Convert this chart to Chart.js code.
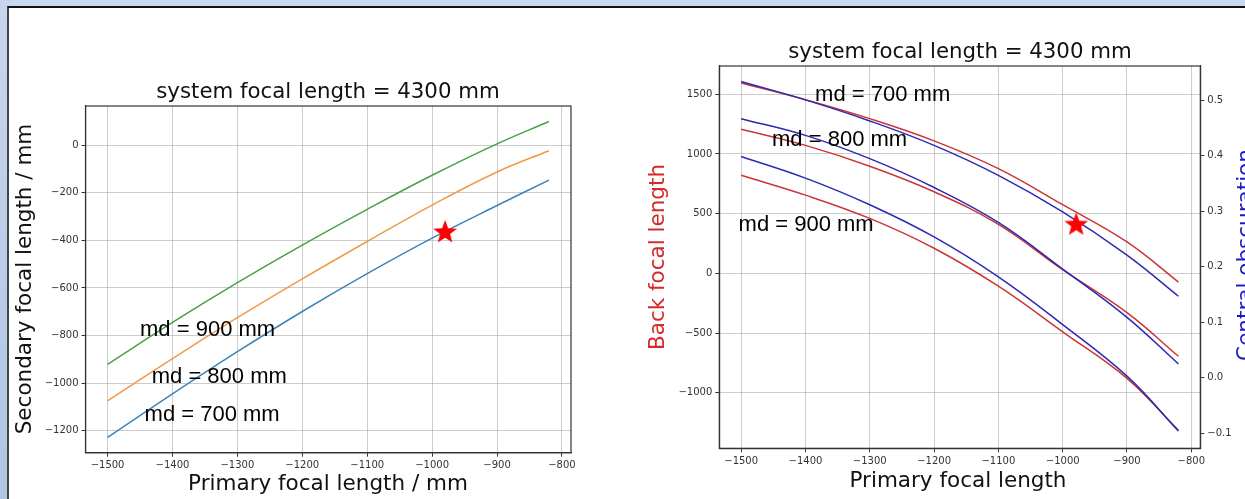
<!DOCTYPE html>
<html>
<head>
<meta charset="utf-8">
<script src="https://cdn.jsdelivr.net/npm/chart.js@4.4.1/dist/chart.umd.min.js"></script>
<style>
  body { margin: 0; width: 1245px; height: 499px; overflow: hidden; background: #c9d8ee; position: relative; }
  #strip { position: absolute; left: 0; top: 0; width: 7px; height: 499px; background: linear-gradient(#c7d6ee, #b0c4e3); }
  #panel { position: absolute; left: 7px; top: 6px; right: 0; bottom: 0; background: #fff; border-top: 2px solid #111; border-left: 2px solid #444; }
  #leftChart { position: absolute; left: 0; top: 0; }
  #rightChart { position: absolute; left: 640px; top: 0; }
</style>
</head>
<body>
<div id="strip"></div>
<div id="panel"></div>
<canvas id="leftChart" width="640" height="499"></canvas>
<canvas id="rightChart" width="605" height="499"></canvas>
<script>
// values
const primaryFocal = [-1500, -1400, -1300, -1200, -1100, -1000, -900, -820];

const secondaryMd700 = [-1228, -1045, -868, -699, -540, -391, -254, -147];
const secondaryMd800 = [-1074, -897, -725, -562, -405, -252, -113, -24];
const secondaryMd900 = [-921, -745, -578, -420, -270, -127, 5, 99];

const backFocalMd700 = [1595, 1455, 1296, 1110, 877, 575, 263, -73];
const backFocalMd800 = [1207, 1072, 897, 683, 410, 30, -330, -695];
const backFocalMd900 = [821, 655, 460, 210, -108, -490, -880, -1315];

const obscurationMd700 = [0.534, 0.501, 0.463, 0.419, 0.365, 0.299, 0.221, 0.147];
const obscurationMd800 = [0.467, 0.437, 0.395, 0.343, 0.280, 0.196, 0.109, 0.025];
const obscurationMd900 = [0.399, 0.360, 0.312, 0.254, 0.182, 0.096, 0.003, -0.096];

const starLeft = [{ x: -980, y: -365 }];
const starRight = [{ x: -979, y: 410 }];

const xTicks = [-1500, -1400, -1300, -1200, -1100, -1000, -900, -800];
const secondaryTicks = [-1200, -1000, -800, -600, -400, -200, 0];
const backFocalTicks = [-1000, -500, 0, 500, 1000, 1500];
const obscurationTicks = [-0.1, 0, 0.1, 0.2, 0.3, 0.4, 0.5];

const mdLabels = ["md = 700 mm", "md = 800 mm", "md = 900 mm"];

Chart.defaults.font.family = "'DejaVu Sans', sans-serif";
Chart.defaults.color = "#333";

const pts = (ys) => primaryFocal.map((x, i) => ({ x: x, y: ys[i] }));
const minus = (s) => s.replace("-", "\u2212");

// red filled star used as point style
const star = document.createElement("canvas");
star.width = 26; star.height = 26;
(function () {
  const c = star.getContext("2d");
  c.beginPath();
  for (let i = 0; i < 10; i++) {
    const r = i % 2 ? 5.2 : 12.5;
    const a = -Math.PI / 2 + i * Math.PI / 5;
    c.lineTo(13 + r * Math.cos(a), 13.5 + r * Math.sin(a));
  }
  c.closePath();
  c.fillStyle = "#ff0000";
  c.fill();
})();

const titleFont = "21.3px 'DejaVu Sans'";
const labelFont = "21.5px 'DejaVu Sans'";
const mdFont = "22px 'Liberation Sans'";

// texts drawn on each canvas (kept outside chart options)
const textsByCanvas = {
  leftChart: [
    { text: "system focal length = 4300 mm", font: titleFont, px: [328, 92] },
    { text: "Primary focal length / mm", font: labelFont, px: [328, 484] },
    { text: "Secondary focal length / mm", font: labelFont, px: [25, 279], rot: -Math.PI / 2 },
    { text: mdLabels[2], font: mdFont, align: "left", at: [-1450, -777], color: "#000" },
    { text: mdLabels[1], font: mdFont, align: "left", at: [-1432, -975], color: "#000" },
    { text: mdLabels[0], font: mdFont, align: "left", at: [-1443, -1134], color: "#000" }
  ],
  rightChart: [
    { text: "system focal length = 4300 mm", font: titleFont, px: [320, 52] },
    { text: "Primary focal length", font: labelFont, px: [318, 481] },
    { text: "Back focal length", font: labelFont, px: [18, 257], rot: -Math.PI / 2, color: "#d42a2a" },
    { text: "Central obscuration", font: labelFont, px: [606, 255], rot: -Math.PI / 2, color: "#1a1ac8" },
    { text: mdLabels[0], font: mdFont, align: "left", at: [-1385, 1497], color: "#000" },
    { text: mdLabels[1], font: mdFont, align: "left", at: [-1452, 1120], color: "#000" },
    { text: mdLabels[2], font: mdFont, align: "left", at: [-1504, 402], color: "#000" }
  ]
};

const decor = {
  id: "decor",
  afterDraw(chart) {
    const ctx = chart.ctx;
    const a = chart.chartArea;
    ctx.save();
    ctx.strokeStyle = "#333";
    ctx.lineWidth = 1.2;
    ctx.strokeRect(a.left, a.top, a.right - a.left, a.bottom - a.top);
    textsByCanvas[chart.canvas.id].forEach((t) => {
      let x, y;
      if (t.at) {
        x = chart.scales.x.getPixelForValue(t.at[0]);
        y = chart.scales.y.getPixelForValue(t.at[1]);
      } else {
        x = t.px[0];
        y = t.px[1];
      }
      ctx.save();
      ctx.font = t.font;
      ctx.fillStyle = t.color || "#111";
      ctx.textAlign = t.align || "center";
      ctx.textBaseline = "middle";
      ctx.translate(x, y);
      if (t.rot) ctx.rotate(t.rot);
      ctx.fillText(t.text, 0, 0);
      ctx.restore();
    });
    ctx.restore();
  }
};

function axis(min, max, values, size, fmt, extra) {
  return Object.assign({
    type: "linear",
    min: min,
    max: max,
    afterBuildTicks: (s) => { s.ticks = values.map((v) => ({ value: v })); },
    afterFit: (s) => { if (s.isHorizontal()) s.height = size; else s.width = size; },
    ticks: { font: { size: 10 }, color: "#333", padding: 3, maxRotation: 0, autoSkip: false, callback: fmt },
    grid: { color: "rgba(170,170,170,0.6)", lineWidth: 1, tickLength: 4, tickColor: "#333" },
    border: { color: "#333", width: 1.2 }
  }, extra || {});
}

const intFmt = (v) => minus(String(v));
const decFmt = (v) => minus(v.toFixed(1));

function line(data, color, yAxis, order) {
  return {
    data: data, borderColor: color, borderWidth: 1.5, pointRadius: 0,
    tension: 0.4, fill: false, yAxisID: yAxis, order: order
  };
}

new Chart(document.getElementById("leftChart"), {
  type: "line",
  data: {
    datasets: [
      { type: "scatter", data: starLeft, pointStyle: star, pointRadius: 12, order: 0 },
      line(pts(secondaryMd700), "#3d84b8", "y", 1),
      line(pts(secondaryMd800), "#f09a48", "y", 2),
      line(pts(secondaryMd900), "#48a048", "y", 3)
    ]
  },
  options: {
    responsive: false,
    animation: false,
    layout: { padding: { left: 45.5, top: 106, right: 69, bottom: 26.3 } },
    plugins: { legend: { display: false }, tooltip: { enabled: false } },
    scales: {
      x: axis(-1534, -786, xTicks, 20, intFmt),
      y: axis(-1292, 164, secondaryTicks, 40, intFmt)
    }
  },
  plugins: [decor]
});

new Chart(document.getElementById("rightChart"), {
  type: "line",
  data: {
    datasets: [
      { type: "scatter", data: starRight, pointStyle: star, pointRadius: 12, yAxisID: "y", order: 0 },
      line(pts(obscurationMd700), "#2a2ab4", "y2", 1),
      line(pts(obscurationMd800), "#2a2ab4", "y2", 1),
      line(pts(obscurationMd900), "#2a2ab4", "y2", 1),
      line(pts(backFocalMd700), "#cc3535", "y", 2),
      line(pts(backFocalMd800), "#cc3535", "y", 2),
      line(pts(backFocalMd900), "#cc3535", "y", 2)
    ]
  },
  options: {
    responsive: false,
    animation: false,
    layout: { padding: { left: 39.3, top: 66, right: 4.7, bottom: 30.7 } },
    plugins: { legend: { display: false }, tooltip: { enabled: false } },
    scales: {
      x: axis(-1534, -786, xTicks, 20, intFmt),
      y: axis(-1466, 1737, backFocalTicks, 40, intFmt, { position: "left" }),
      y2: axis(-0.127, 0.562, obscurationTicks, 40, decFmt, { position: "right", grid: { drawOnChartArea: false, tickLength: 4, tickColor: "#333" } })
    }
  },
  plugins: [decor]
});
</script>
</body>
</html>
